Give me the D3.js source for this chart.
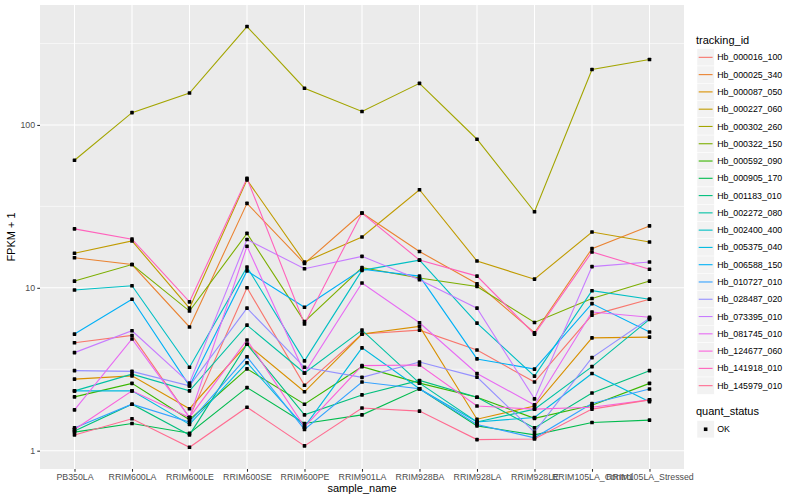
<!DOCTYPE html>
<html><head><meta charset="utf-8">
<script src="https://cdn.jsdelivr.net/npm/d3@7"></script>
<style>body{margin:0;background:#fff}svg{display:block}text{font-family:"Liberation Sans",Arial,Helvetica,sans-serif}</style>
</head><body><svg id="c" width="800" height="500"></svg>
<script>
const categories = ["PB350LA","RRIM600LA","RRIM600LE","RRIM600SE","RRIM600PE","RRIM901LA","RRIM928BA","RRIM928LA","RRIM928LE","RRIM105LA_Control","RRIM105LA_Stressed"];
const trackingIds = ["Hb_000016_100","Hb_000025_340","Hb_000087_050","Hb_000227_060","Hb_000302_260","Hb_000322_150","Hb_000592_090","Hb_000905_170","Hb_001183_010","Hb_002272_080","Hb_002400_400","Hb_005375_040","Hb_006588_150","Hb_010727_010","Hb_028487_020","Hb_073395_010","Hb_081745_010","Hb_124677_060","Hb_141918_010","Hb_145979_010"];
const seriesColors = ["#F8766D","#EA8331","#D89000","#C09B00","#A3A500","#7CAE00","#39B600","#00BB4E","#00BF7D","#00C1A3","#00BFC4","#00BAE0","#00B0F6","#35A2FF","#9590FF","#C77CFF","#E76BF3","#FA62DB","#FF62BC","#FF6C91"];
// FPKM + 1 values, one array per tracking_id, in category order
const Hb_000016_100 = [4.6, 5.1, 1.6, 10.0, 2.52, 5.2, 5.5, 4.15, 2.64, 6.8, 8.5];
const Hb_000025_340 = [15.3, 13.9, 5.75, 33, 14.1, 28.8, 16.7, 10.6, 5.3, 17.4, 24];
const Hb_000087_050 = [2.75, 2.88, 1.81, 4.5, 2.3, 5.2, 5.8, 1.56, 1.88, 4.93, 4.98];
const Hb_000227_060 = [16.3, 19.4, 7.5, 46, 14.4, 20.5, 40, 14.6, 11.3, 22, 19.1];
const Hb_000302_260 = [60.7, 119, 157, 402, 168, 121, 180, 81.7, 29.3, 219, 252];
const Hb_000322_150 = [11, 13.9, 7.2, 21.6, 6.2, 13.3, 11.5, 10.2, 6.13, 8.6, 11];
const Hb_000592_090 = [2.14, 2.59, 1.55, 3.18, 1.93, 3.28, 2.6, 2.13, 1.58, 1.9, 2.59];
const Hb_000905_170 = [1.3, 1.47, 1.28, 2.44, 1.47, 1.66, 2.4, 1.42, 1.25, 1.49, 1.54];
const Hb_001183_010 = [1.32, 1.93, 1.25, 4.5, 1.66, 2.2, 2.7, 2.13, 1.38, 2.26, 3.1];
const Hb_002272_080 = [2.33, 2.95, 2.33, 5.9, 3.0, 5.5, 2.6, 1.5, 1.8, 3.28, 6.4];
const Hb_002400_400 = [9.7, 10.3, 3.25, 13.4, 3.56, 12.8, 14.8, 6.07, 2.87, 9.6, 8.5];
const Hb_005375_040 = [2.33, 2.33, 1.45, 3.47, 1.4, 4.28, 2.4, 1.5, 1.6, 2.98, 2.0];
const Hb_006588_150 = [5.2, 8.5, 2.5, 12.7, 7.6, 13.0, 11.8, 3.66, 3.17, 8.0, 5.35];
const Hb_010727_010 = [1.38, 1.93, 1.5, 3.77, 1.35, 2.64, 2.4, 1.45, 1.2, 1.95, 2.39];
const Hb_028487_020 = [3.1, 3.07, 2.5, 7.5, 3.25, 2.82, 3.5, 2.83, 1.3, 3.73, 6.5];
const Hb_073395_010 = [4.0, 5.45, 2.6, 19.8, 13.1, 15.6, 11.2, 7.5, 2.08, 13.5, 14.4];
const Hb_081745_010 = [1.78, 4.85, 1.6, 18.0, 3.0, 10.7, 6.1, 2.98, 1.91, 7.1, 6.6];
const Hb_124677_060 = [1.35, 2.33, 1.6, 4.78, 1.4, 3.33, 3.36, 1.88, 1.8, 1.85, 2.05];
const Hb_141918_010 = [23, 19.9, 8.2, 47, 6.0, 28.8, 14.8, 11.8, 5.2, 16.6, 13.0];
const Hb_145979_010 = [1.25, 1.57, 1.05, 1.85, 1.07, 1.83, 1.75, 1.17, 1.18, 1.8, 2.05];
const seriesValues = [Hb_000016_100,Hb_000025_340,Hb_000087_050,Hb_000227_060,Hb_000302_260,Hb_000322_150,Hb_000592_090,Hb_000905_170,Hb_001183_010,Hb_002272_080,Hb_002400_400,Hb_005375_040,Hb_006588_150,Hb_010727_010,Hb_028487_020,Hb_073395_010,Hb_081745_010,Hb_124677_060,Hb_141918_010,Hb_145979_010];
const yTicks = [1, 10, 100];
const yMinor = [Math.sqrt(10), Math.sqrt(1000), Math.sqrt(100000)];
const statusLevels = ["OK"];

const svg = d3.select("#c");
const P = {l: 40, r: 684, t: 5, b: 469};
const x = d3.scalePoint().domain(categories).range([P.l, P.r]).padding(0.6);
const y = d3.scaleLog().domain([0.772, 545]).range([P.b, P.t]);

svg.append("rect").attr("x", P.l).attr("y", P.t).attr("width", P.r - P.l).attr("height", P.b - P.t).attr("fill", "#EBEBEB");
const g = svg.append("g");
g.selectAll(".ymin").data(yMinor).join("line").attr("x1", P.l).attr("x2", P.r)
  .attr("y1", d => y(d)).attr("y2", d => y(d)).attr("stroke", "#fff").attr("stroke-width", 0.55);
g.selectAll(".ymaj").data(yTicks).join("line").attr("x1", P.l).attr("x2", P.r)
  .attr("y1", d => y(d)).attr("y2", d => y(d)).attr("stroke", "#fff").attr("stroke-width", 1.07);
g.selectAll(".xmaj").data(categories).join("line").attr("y1", P.t).attr("y2", P.b)
  .attr("x1", d => x(d)).attr("x2", d => x(d)).attr("stroke", "#fff").attr("stroke-width", 1.07);

const line = d3.line().x((d, i) => x(categories[i])).y(d => y(d));
seriesValues.forEach((vals, k) => {
  svg.append("path").datum(vals).attr("d", line).attr("fill", "none")
    .attr("stroke", seriesColors[k]).attr("stroke-width", 1.1);
});
seriesValues.forEach((vals) => {
  svg.append("g").selectAll("rect").data(vals).join("rect")
    .attr("x", (d, i) => x(categories[i]) - 1.8).attr("y", d => y(d) - 1.8)
    .attr("width", 3.6).attr("height", 3.6).attr("rx", 0.6).attr("fill", "#000");
});

// axes
const yAxis = d3.axisLeft(y).tickValues(yTicks).tickFormat(d3.format("d")).tickSize(2.75).tickPadding(2.2);
const ya = svg.append("g").attr("transform", `translate(${P.l},0)`).call(yAxis);
const xAxis = d3.axisBottom(x).tickSize(2.75).tickPadding(2.2);
const xa = svg.append("g").attr("transform", `translate(0,${P.b})`).call(xAxis);
[ya, xa].forEach(a => {
  a.select(".domain").remove();
  a.selectAll(".tick line").attr("stroke", "#333").attr("stroke-width", 1.07);
  a.selectAll(".tick text").attr("fill", "#4D4D4D").attr("font-size", 8.8)
    .style("font-family", '"Liberation Sans",Arial,sans-serif');
});

svg.append("text").attr("x", (P.l + P.r) / 2).attr("y", 492).attr("text-anchor", "middle")
  .attr("font-size", 11).text("sample_name");
svg.append("text").attr("transform", `translate(15,${(P.t + P.b) / 2}) rotate(-90)`)
  .attr("text-anchor", "middle").attr("font-size", 11).text("FPKM + 1");

// legend: tracking_id
const L = {x: 697, key: 17.28, y0: 48.7};
svg.append("text").attr("x", 696).attr("y", 44).attr("font-size", 11).text("tracking_id");
const lg = svg.append("g").selectAll("g").data(trackingIds).join("g")
  .attr("transform", (d, i) => `translate(${L.x},${L.y0 + i * L.key})`);
lg.append("rect").attr("width", L.key).attr("height", L.key).attr("fill", "#F2F2F2")
  .attr("stroke", "#fff").attr("stroke-width", 0.5);
lg.append("line").attr("x1", 1.7).attr("x2", L.key - 1.7).attr("y1", L.key / 2).attr("y2", L.key / 2)
  .attr("stroke", (d, i) => seriesColors[i]).attr("stroke-width", 1.1);
lg.append("text").attr("x", L.key + 2.9).attr("y", L.key / 2).attr("dy", "0.35em")
  .attr("font-size", 8.8).text(d => d);

// legend: quant_status
svg.append("text").attr("x", 696).attr("y", 415).attr("font-size", 11).text("quant_status");
const sg = svg.append("g").selectAll("g").data(statusLevels).join("g")
  .attr("transform", (d, i) => `translate(${L.x},${420.6 + i * L.key})`);
sg.append("rect").attr("width", L.key).attr("height", L.key).attr("fill", "#F2F2F2")
  .attr("stroke", "#fff").attr("stroke-width", 0.5);
sg.append("rect").attr("x", L.key / 2 - 1.8).attr("y", L.key / 2 - 1.8).attr("width", 3.6).attr("height", 3.6).attr("fill", "#000");
sg.append("text").attr("x", L.key + 2.9).attr("y", L.key / 2).attr("dy", "0.35em")
  .attr("font-size", 8.8).text(d => d);
</script></body></html>
